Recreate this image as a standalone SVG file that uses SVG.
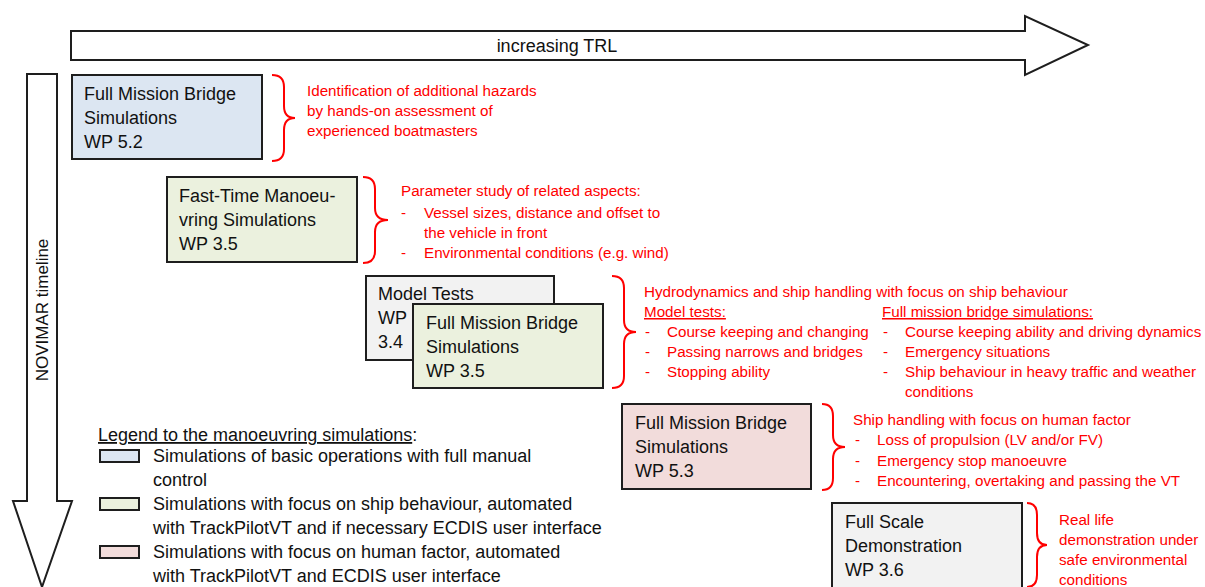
<svg xmlns="http://www.w3.org/2000/svg" width="1205" height="587" viewBox="0 0 1205 587">
<style>
.box{stroke:#1e1e1e;stroke-width:2}
.bt{font-family:"Liberation Sans",Arial,sans-serif;font-size:18px;fill:#111}
.rt{font-family:"Liberation Sans",Arial,sans-serif;font-size:15.2px;fill:#ff0000}
.br{fill:none;stroke:#ff0000;stroke-width:2}
.ar{fill:#fff;stroke:#1e1e1e;stroke-width:2}
.u{text-decoration:underline}
</style>
<rect width="1205" height="587" fill="#fff"/>
<g id="connectors">
<path class="ar" d="M71,31 H1025 V16 L1088,45 L1025,75 V60 H71 Z"/>
<text class="bt" x="557" y="52" text-anchor="middle">increasing TRL</text>
<path class="ar" d="M27,74 H57 V501 H72 L42,587 L13,501 H27 Z"/>
<text class="bt" transform="translate(48,310) rotate(-90)" text-anchor="middle" style="font-size:17px">NOVIMAR timeline</text>
</g>
<g id="node-fmb52">
<rect class="box" x="72" y="75" width="190" height="84" fill="#dce6f2"/>
<text class="bt" x="84" y="100">Full Mission Bridge</text>
<text class="bt" x="84" y="124">Simulations</text>
<text class="bt" x="84" y="148">WP 5.2</text>
<path class="br" d="M272,75 Q284,75 284,87 V106 Q284,118 295,118 Q284,118 284,130 V149 Q284,161 272,161"/>
<text class="rt" x="307" y="96">Identification of additional hazards</text>
<text class="rt" x="307" y="116">by hands-on assessment of</text>
<text class="rt" x="307" y="136">experienced boatmasters</text>
</g>
<g id="node-ftms35">
<rect class="box" x="167" y="177" width="190" height="85" fill="#ebf1de"/>
<text class="bt" x="179" y="202">Fast-Time Manoeu-</text>
<text class="bt" x="179" y="226">vring Simulations</text>
<text class="bt" x="179" y="250">WP 3.5</text>
<path class="br" d="M363,177 Q375,177 375,189 V208 Q375,220 388,220 Q375,220 375,232 V251 Q375,263 363,263"/>
<text class="rt" x="401" y="196">Parameter study of related aspects:</text>
<text class="rt" x="401" y="218">-</text>
<text class="rt" x="424" y="218">Vessel sizes, distance and offset to</text>
<text class="rt" x="424" y="238">the vehicle in front</text>
<text class="rt" x="401" y="258">-</text>
<text class="rt" x="424" y="258">Environmental conditions (e.g. wind)</text>
</g>
<g id="node-mt34">
<rect class="box" x="366" y="276" width="188" height="84" fill="#f2f2f2"/>
<text class="bt" x="378" y="300">Model Tests</text>
<text class="bt" x="378" y="324">WP</text>
<text class="bt" x="378" y="348">3.4</text>
</g>
<g id="node-fmb35">
<rect class="box" x="413" y="304" width="190" height="84" fill="#ebf1de"/>
<text class="bt" x="426" y="329">Full Mission Bridge</text>
<text class="bt" x="426" y="353">Simulations</text>
<text class="bt" x="426" y="377">WP 3.5</text>
<path class="br" d="M612,276 Q624,276 624,288 V320 Q624,332 636,332 Q624,332 624,344 V376 Q624,388 612,388"/>
<text class="rt" x="644" y="297">Hydrodynamics and ship handling with focus on ship behaviour</text>
<text class="rt u" x="644" y="317">Model tests:</text>
<text class="rt u" x="882" y="317">Full mission bridge simulations:</text>
<text class="rt" x="645" y="337">-</text>
<text class="rt" x="667" y="337">Course keeping and changing</text>
<text class="rt" x="645" y="357">-</text>
<text class="rt" x="667" y="357">Passing narrows and bridges</text>
<text class="rt" x="645" y="377">-</text>
<text class="rt" x="667" y="377">Stopping ability</text>
<text class="rt" x="883" y="337">-</text>
<text class="rt" x="905" y="337">Course keeping ability and driving dynamics</text>
<text class="rt" x="883" y="357">-</text>
<text class="rt" x="905" y="357">Emergency situations</text>
<text class="rt" x="883" y="377">-</text>
<text class="rt" x="905" y="377">Ship behaviour in heavy traffic and weather</text>
<text class="rt" x="905" y="397">conditions</text>
</g>
<g id="node-fmb53">
<rect class="box" x="622" y="404" width="189" height="85" fill="#f2dcdb"/>
<text class="bt" x="635" y="429">Full Mission Bridge</text>
<text class="bt" x="635" y="453">Simulations</text>
<text class="bt" x="635" y="477">WP 5.3</text>
<path class="br" d="M822,404 Q833,404 833,416 V435 Q833,447 845,447 Q833,447 833,459 V478 Q833,490 822,490"/>
<text class="rt" x="853" y="425">Ship handling with focus on human factor</text>
<text class="rt" x="855" y="445">-</text>
<text class="rt" x="877" y="445">Loss of propulsion (LV and/or FV)</text>
<text class="rt" x="855" y="466">-</text>
<text class="rt" x="877" y="466">Emergency stop manoeuvre</text>
<text class="rt" x="855" y="486">-</text>
<text class="rt" x="877" y="486">Encountering, overtaking and passing the VT</text>
</g>
<g id="node-fsd36">
<rect class="box" x="832" y="503" width="190" height="90" fill="#f2f2f2"/>
<text class="bt" x="845" y="528">Full Scale</text>
<text class="bt" x="845" y="552">Demonstration</text>
<text class="bt" x="845" y="576">WP 3.6</text>
<path class="br" d="M1027,503 Q1037,503 1037,515 V533 Q1037,545 1047,545 Q1037,545 1037,557 V575 Q1037,587 1027,587"/>
<text class="rt" x="1059" y="525">Real life</text>
<text class="rt" x="1059" y="545">demonstration under</text>
<text class="rt" x="1059" y="565">safe environmental</text>
<text class="rt" x="1059" y="585">conditions</text>
</g>
<g id="legend">
<text class="bt" x="98" y="441"><tspan class="u">Legend to the manoeuvring simulations</tspan>:</text>
<rect x="100" y="450" width="39" height="12" fill="#dce6f2" stroke="#1e1e1e" stroke-width="2"/>
<text class="bt" x="153" y="462">Simulations of basic operations with full manual</text>
<text class="bt" x="153" y="486">control</text>
<rect x="100" y="498" width="39" height="12" fill="#ebf1de" stroke="#1e1e1e" stroke-width="2"/>
<text class="bt" x="153" y="510">Simulations with focus on ship behaviour, automated</text>
<text class="bt" x="153" y="534">with TrackPilotVT and if necessary ECDIS user interface</text>
<rect x="100" y="546" width="39" height="12" fill="#f2dcdb" stroke="#1e1e1e" stroke-width="2"/>
<text class="bt" x="153" y="558">Simulations with focus on human factor, automated</text>
<text class="bt" x="153" y="582">with TrackPilotVT and ECDIS user interface</text>
</g>
</svg>
